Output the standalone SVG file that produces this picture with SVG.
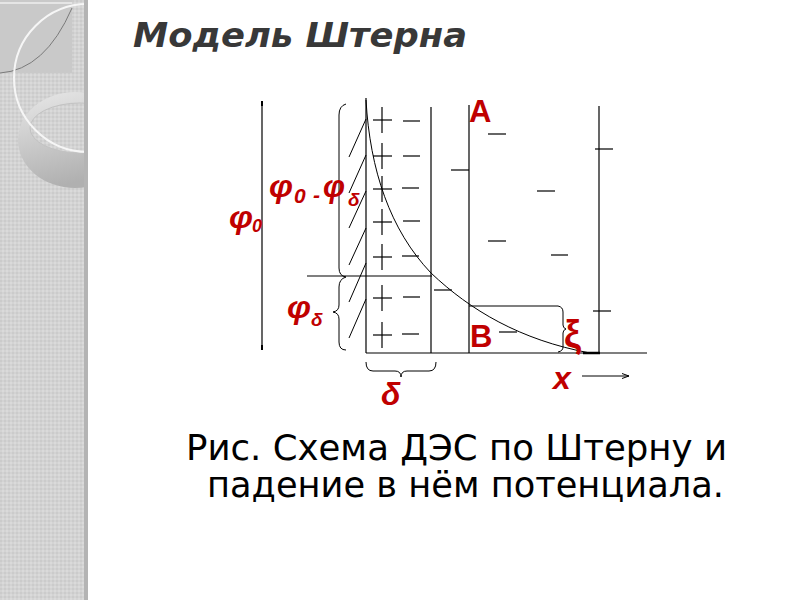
<svg xmlns="http://www.w3.org/2000/svg" width="800" height="600" viewBox="0 0 800 600">
<defs>
<style>
.ln{stroke:#000;stroke-width:1.2;fill:none}
.th{stroke:#000;stroke-width:1;fill:none}
.lbl{font-family:"Liberation Sans",Arial,sans-serif;font-weight:bold;fill:#C00000}
.it{font-style:italic}
</style>
<linearGradient id="ringG" x1="0" y1="0" x2="0.3" y2="1">
<stop offset="0" stop-color="#e8e8e8"/>
<stop offset="1" stop-color="#b0b0b0"/>
</linearGradient>
<pattern id="tex" width="4" height="4" patternUnits="userSpaceOnUse">
<rect width="4" height="4" fill="#d3d3d3"/>
<rect width="2" height="2" fill="#cbcbcb"/>
<rect x="2" y="2" width="2" height="2" fill="#dadada"/>
</pattern>
<clipPath id="stripClip"><rect x="0" y="0" width="88" height="600"/></clipPath>
<marker id="arr" markerWidth="8" markerHeight="6" refX="7" refY="3" orient="auto" markerUnits="userSpaceOnUse">
<path d="M0,0.5 L7,3 L0,5.5" fill="none" stroke="#000" stroke-width="1"/>
</marker>
</defs>
<rect width="800" height="600" fill="#fff"/>
<g id="strip" clip-path="url(#stripClip)">
<rect x="0" y="0" width="88" height="600" fill="url(#tex)"/>
<rect x="0" y="0" width="72" height="73" fill="#c9c9c9"/>
<path d="M0,73 Q45,70 72,8" fill="none" stroke="#7a7a7a" stroke-width="1"/>
<path d="M72,3 L0,3" stroke="#eeeeee" stroke-width="1.5" fill="none"/>
<path fill-rule="evenodd" fill="url(#ringG)" d="M132,140 A57,48 0 1 1 18,140 A57,48 0 1 1 132,140 Z M130,128 A50,25 0 1 0 30,128 A50,25 0 1 0 130,128 Z"/>
<ellipse cx="80" cy="128" rx="50" ry="25" fill="none" stroke="#c2c2c2" stroke-width="1"/>
<circle cx="88" cy="78" r="74" fill="none" stroke="#f6f6f6" stroke-width="2"/>
<rect x="84" y="0" width="4" height="600" fill="#b4b4b4"/>
</g>
<text x="133" y="47" font-family="DejaVu Sans, sans-serif" font-size="34" font-weight="bold" font-style="italic" fill="#383838" textLength="334" lengthAdjust="spacingAndGlyphs">Модель Штерна</text>
<g id="connectors">
<line class="ln" x1="262" y1="103" x2="262" y2="348"/>
<line x1="262" y1="101" x2="262" y2="106" stroke="#000" stroke-width="2"/>
<line x1="262" y1="345" x2="262" y2="350" stroke="#000" stroke-width="2"/>
<path class="th" d="M346,104 Q339,106 339,115 L339,268 Q339,276 346,277"/>
<path class="th" d="M346,277 Q339,279 339,287 L339,305 Q339,311 333,312 Q339,313 339,319 L339,342 Q339,350 346,350"/>
<path class="th" d="M366,362 Q366,371 373,371 L395,371 Q401,371 401,377 Q401,371 407,371 L429,371 Q436,371 436,362"/>
<line class="ln" x1="366" y1="98" x2="366" y2="353"/>
<line class="ln" x1="431" y1="107" x2="431" y2="353"/>
<line class="ln" x1="469" y1="105" x2="469" y2="353"/>
<line class="ln" x1="599" y1="106" x2="599" y2="353"/>
<line class="ln" x1="366" y1="353" x2="647" y2="353"/>
<line class="ln" x1="307" y1="276" x2="432" y2="276"/>
<line class="ln" x1="469" y1="306" x2="558" y2="306"/>
<line x1="583" y1="353" x2="600" y2="353" stroke="#000" stroke-width="2.5"/>
<path class="th" d="M558,306 Q563,307 563,312 L563,325 Q563,328 566,329 Q563,330 563,333 L563,347 Q563,351 558,352"/>
<g class="th">
<line x1="349" y1="157" x2="366" y2="119"/>
<line x1="349" y1="193" x2="366" y2="155"/>
<line x1="349" y1="228" x2="366" y2="191"/>
<line x1="349" y1="265" x2="366" y2="228"/>
<line x1="349" y1="302" x2="366" y2="263"/>
<line x1="349" y1="338" x2="366" y2="299"/>
</g>
<g class="ln">
<line x1="382" y1="107" x2="382" y2="133"/>
<line x1="382" y1="143" x2="382" y2="169"/>
<line x1="382" y1="176" x2="382" y2="202"/>
<line x1="382" y1="209" x2="382" y2="235"/>
<line x1="382" y1="244" x2="382" y2="270"/>
<line x1="382" y1="285" x2="382" y2="311"/>
<line x1="382" y1="322" x2="382" y2="348"/>
<line x1="373" y1="120" x2="392" y2="120"/>
<line x1="373" y1="156" x2="392" y2="156"/>
<line x1="373" y1="189" x2="392" y2="189"/>
<line x1="373" y1="222" x2="392" y2="222"/>
<line x1="373" y1="257" x2="392" y2="257"/>
<line x1="373" y1="298" x2="392" y2="298"/>
<line x1="373" y1="335" x2="392" y2="335"/>
</g>
<g class="ln">
<line x1="403" y1="121" x2="420" y2="121"/>
<line x1="403" y1="156" x2="420" y2="156"/>
<line x1="402" y1="188" x2="419" y2="188"/>
<line x1="403" y1="221" x2="420" y2="221"/>
<line x1="402" y1="256" x2="419" y2="256"/>
<line x1="403" y1="297" x2="420" y2="297"/>
<line x1="402" y1="334" x2="419" y2="334"/>
</g>
<g class="ln">
<line x1="488" y1="134" x2="506" y2="134"/>
<line x1="451" y1="170" x2="469" y2="170"/>
<line x1="537" y1="191" x2="555" y2="191"/>
<line x1="488" y1="241" x2="506" y2="241"/>
<line x1="551" y1="255" x2="568" y2="255"/>
<line x1="434" y1="290" x2="452" y2="290"/>
<line x1="499" y1="332" x2="517" y2="332"/>
<line x1="595" y1="149" x2="613" y2="149"/>
<line x1="593" y1="311" x2="611" y2="311"/>
</g>
<path class="th" d="M366,100 C370,170 390,230 431,273 C470,310 520,340 590,353"/>
<line class="th" x1="582" y1="376" x2="629" y2="376" marker-end="url(#arr)"/>
</g>
<g id="labels">
<text class="lbl" x="469" y="122" font-size="31">A</text>
<text class="lbl" x="470" y="347" font-size="31">B</text>
<text class="lbl" x="564" y="347" font-size="38">ξ</text>
<text class="lbl it" x="553" y="389" font-size="32">x</text>
<text class="lbl it" x="381" y="405" font-size="32">δ</text>
<g id="phi0">
<text class="lbl it" x="229" y="228" font-size="31" textLength="24" lengthAdjust="spacingAndGlyphs">φ</text>
<text class="lbl it" x="252" y="232" font-size="18">0</text>
</g>
<g id="phi0-phid">
<text class="lbl it" x="269" y="197" font-size="31" textLength="24" lengthAdjust="spacingAndGlyphs">φ</text>
<text class="lbl it" x="294" y="203" font-size="21">0</text>
<text class="lbl it" x="313" y="202" font-size="21">-</text>
<text class="lbl it" x="323" y="197" font-size="31" textLength="22" lengthAdjust="spacingAndGlyphs">φ</text>
<text class="lbl it" x="348" y="206" font-size="19">δ</text>
</g>
<g id="phid">
<text class="lbl it" x="287" y="318" font-size="31" textLength="24" lengthAdjust="spacingAndGlyphs">φ</text>
<text class="lbl it" x="311" y="326" font-size="19">δ</text>
</g>
</g>
<g id="caption" font-family="DejaVu Sans, sans-serif" font-size="35.5" fill="#000">
<text x="186" y="460" textLength="541" lengthAdjust="spacingAndGlyphs">Рис. Схема ДЭС по Штерну и</text>
<text x="207" y="497" textLength="517" lengthAdjust="spacingAndGlyphs">падение в нём потенциала.</text>
</g>
</svg>
